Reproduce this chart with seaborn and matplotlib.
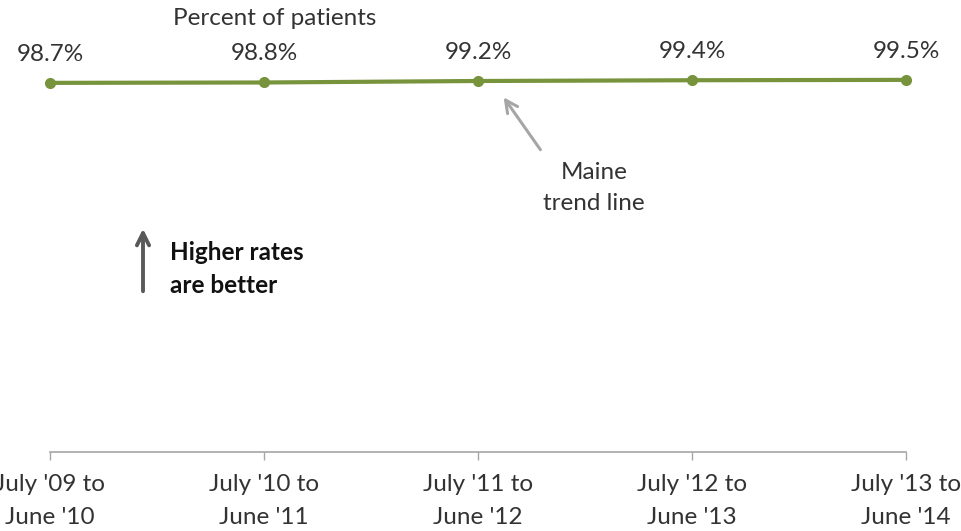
import matplotlib
matplotlib.use("Agg")
import matplotlib.pyplot as plt
import seaborn as sns
import pandas as pd

periods = ["July '09 to\nJune '10", "July '10 to\nJune '11", "July '11 to\nJune '12",
           "July '12 to\nJune '13", "July '13 to\nJune '14"]
rates = [98.7, 98.8, 99.2, 99.4, 99.5]
value_labels = ["98.7%", "98.8%", "99.2%", "99.4%", "99.5%"]

sns.set_theme(style="white")
plt.rcParams['font.family'] = ['Lato', 'DejaVu Sans']

df = pd.DataFrame({"idx": range(len(periods)), "rate": rates})

W, H = 961, 531
FS = 17.5
LS = 1.55
fig = plt.figure(figsize=(W / 100, H / 100), dpi=100)
ax = fig.add_axes([50 / W, (H - 452) / H, 856 / W, 374 / H])

green = "#77933c"
sns.lineplot(data=df, x="idx", y="rate", ax=ax, color=green, linewidth=3,
             marker="o", markersize=8, markeredgewidth=0, clip_on=False)

ax.set_xlim(0, len(periods) - 1)
ax.set_ylim(0, 100)
ax.set_xlabel("")
ax.set_ylabel("")
ax.set_yticks([])
ax.set_xticks(range(len(periods)))
ax.set_xticklabels(periods, fontsize=FS, color="#333333", linespacing=1.72)
ax.tick_params(axis="x", direction="out", length=6, width=1, color="#a6a6a6", pad=10, bottom=True)
for s in ["left", "right", "top"]:
    ax.spines[s].set_visible(False)
ax.spines["bottom"].set_color("#a6a6a6")
ax.spines["bottom"].set_linewidth(1.2)

for i, (v, t) in enumerate(zip(rates, value_labels)):
    ax.annotate(t, xy=(i, v), xytext=(0, 16), textcoords="offset points",
                ha="center", va="baseline", fontsize=FS, color="#333333")

fig.text(275 / W, 1 - 25 / H, "Percent of patients", ha="center", va="baseline",
         fontsize=FS, color="#333333")

# callout for the trend line
fig.text(594 / W, 1 - 188 / H, "Maine\ntrend line", ha="center", va="center",
         fontsize=FS, color="#333333", linespacing=LS)
ax.annotate("", xy=(502 / W, 1 - 95 / H), xycoords="figure fraction",
            xytext=(542 / W, 1 - 152 / H), textcoords="figure fraction",
            arrowprops=dict(arrowstyle="->", color="#a6a6a6", lw=2.2, mutation_scale=22))

# direction note
ax.annotate("", xy=(143 / W, 1 - 226 / H), xycoords="figure fraction",
            xytext=(143 / W, 1 - 294 / H), textcoords="figure fraction",
            arrowprops=dict(arrowstyle="->", color="#595959", lw=2.8, mutation_scale=22))
fig.text(170 / W, 1 - 269 / H, "Higher rates\nare better", ha="left", va="center",
         fontsize=FS, fontweight="bold", color="#111111", linespacing=LS)

fig.savefig("out.png", dpi=100, facecolor="white")
